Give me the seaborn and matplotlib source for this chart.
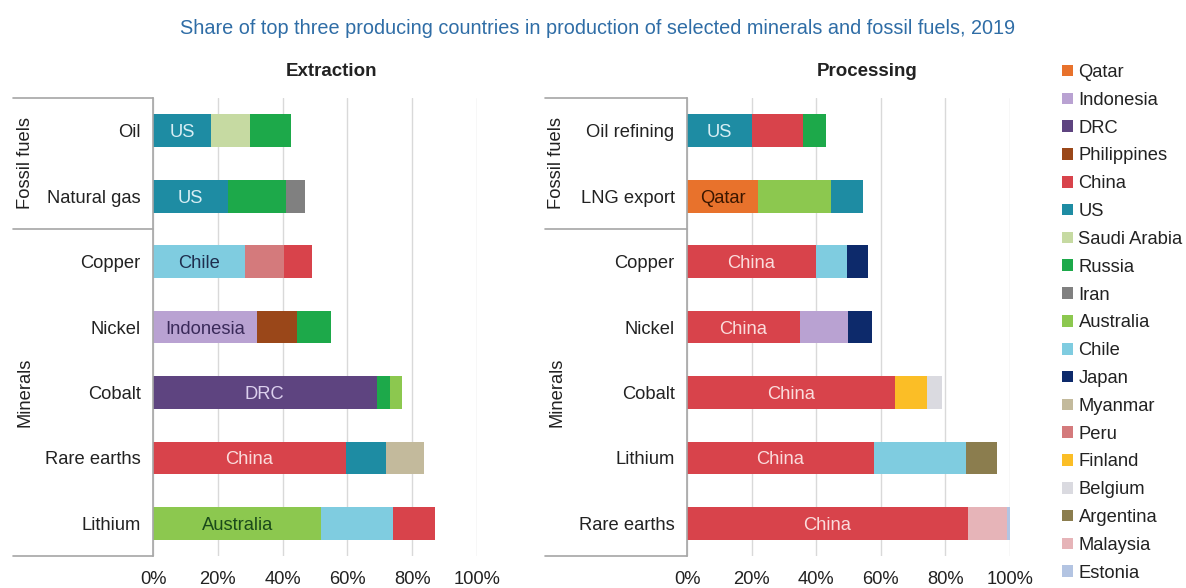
import pandas as pd
import matplotlib.pyplot as plt
import matplotlib.ticker as mtick
import matplotlib.transforms as mtransforms
from matplotlib.patches import Patch
import seaborn as sns

TITLE = "Share of top three producing countries in production of selected minerals and fossil fuels, 2019"

# Extraction panel (shares in %)
ext_items = ["Oil", "Natural gas", "Copper", "Nickel", "Cobalt", "Rare earths", "Lithium"]
ext_first = ["US", "US", "Chile", "Indonesia", "DRC", "China", "Australia"]
ext_second = ["Saudi Arabia", "Russia", "Peru", "Philippines", "Russia", "US", "Chile"]
ext_third = ["Russia", "Iran", "China", "Russia", "Australia", "Myanmar", "China"]
ext_share1 = [18, 23, 28.5, 32, 69, 59.5, 52]
ext_share2 = [12, 18, 12, 12.5, 4, 12.5, 22]
ext_share3 = [12.5, 6, 8.5, 10.5, 4, 11.5, 13]

# Processing panel (shares in %)
proc_items = ["Oil refining", "LNG export", "Copper", "Nickel", "Cobalt", "Lithium", "Rare earths"]
proc_first = ["US", "Qatar", "China", "China", "China", "China", "China"]
proc_second = ["China", "Australia", "Chile", "Indonesia", "Finland", "Chile", "Malaysia"]
proc_third = ["Russia", "US", "Japan", "Japan", "Belgium", "Argentina", "Estonia"]
proc_share1 = [20, 22, 40, 35, 64.5, 58, 87]
proc_share2 = [16, 22.5, 9.5, 15, 10, 28.5, 12.2]
proc_share3 = [7, 10, 6.5, 7.5, 4.5, 9.5, 0.8]

legend_countries = ["Qatar", "Indonesia", "DRC", "Philippines", "China", "US",
                    "Saudi Arabia", "Russia", "Iran", "Australia", "Chile", "Japan",
                    "Myanmar", "Peru", "Finland", "Belgium", "Argentina", "Malaysia", "Estonia"]
country_colors = {
    "Qatar": "#E8722C", "Indonesia": "#B9A2D2", "DRC": "#5E4480", "Philippines": "#9A4719",
    "China": "#D8434B", "US": "#1E8CA3", "Saudi Arabia": "#C6DAA2", "Russia": "#1DA94A",
    "Iran": "#808080", "Australia": "#8CC84F", "Chile": "#7FCCE0", "Japan": "#0D2A6B",
    "Myanmar": "#C3BA9C", "Peru": "#D47A7C", "Finland": "#FBBE26", "Belgium": "#DADAE0",
    "Argentina": "#8B7D4E", "Malaysia": "#E6B4B8", "Estonia": "#B3C4E2",
}
label_colors = {"US": "#D8EEF4", "Chile": "#1F2E4E", "Indonesia": "#3A2A5A", "DRC": "#DCD0EE",
                "China": "#FADCDC", "Australia": "#1A4A1A", "Qatar": "#3A1600"}

GRID = "#D9D9D9"
LINE = "#A6A6A6"
TEXT = "#222222"
FS = 13.2


def long_frame(items, firsts, seconds, thirds, s1, s2, s3):
    rows = []
    for i, item in enumerate(items):
        parts = [(firsts[i], s1[i]), (seconds[i], s2[i]), (thirds[i], s3[i])]
        for rank, (country, share) in enumerate(parts, 1):
            rows.append({"item": item, "pos": i, "rank": rank, "country": country, "share": share})
    df = pd.DataFrame(rows)
    df["end"] = df.groupby("item")["share"].cumsum()
    return df


def draw_panel(ax, df, items, title_x, title, box_x, label_x):
    # stacked bars: draw cumulative totals from the outermost segment inwards
    for rank in [3, 2, 1]:
        sub = df[df["rank"] == rank]
        sns.barplot(data=sub, x="end", y="item", hue="country", order=items,
                    palette=country_colors, dodge=False, width=0.5, saturation=1,
                    linewidth=0, errorbar=None, legend=False, ax=ax)
    for _, row in df[df["rank"] == 1].iterrows():
        ax.text(row["share"] / 2, row["pos"], row["country"], ha="center", va="center_baseline",
                fontsize=FS, color=label_colors.get(row["country"], "white"))

    ax.set_xlim(0, 100)
    ax.set_ylim(6.5, -0.5)
    ax.set_xticks([0, 20, 40, 60, 80, 100])
    ax.xaxis.set_major_formatter(mtick.PercentFormatter(decimals=0))
    ax.set_xlabel("")
    ax.set_ylabel("")
    ax.xaxis.grid(True, color=GRID, lw=1)
    ax.yaxis.grid(False)
    ax.set_axisbelow(True)
    ax.tick_params(axis="x", length=0, pad=11, labelsize=FS, labelcolor=TEXT)
    ax.tick_params(axis="y", length=0, pad=9, labelsize=FS, labelcolor=TEXT)
    for side in ["top", "right", "bottom"]:
        ax.spines[side].set_visible(False)
    ax.spines["left"].set_color(LINE)
    ax.spines["left"].set_linewidth(1.2)

    # two-level category box
    trans = mtransforms.blended_transform_factory(ax.transAxes, ax.transData)
    for yy in [-0.5, 1.5, 6.5]:
        ax.plot([box_x, 0], [yy, yy], transform=trans, clip_on=False, color=LINE, lw=1.2)
    ax.text(label_x, 0.5, "Fossil fuels", rotation=90, transform=trans,
            ha="center", va="center", fontsize=FS, color=TEXT)
    ax.text(label_x, 4, "Minerals", rotation=90, transform=trans,
            ha="center", va="center", fontsize=FS, color=TEXT)
    ax.figure.text(title_x, 1 - 72 / 588, title, ha="center", va="center",
                   fontsize=13.5, fontweight="bold", color=TEXT)


sns.set_theme(style="white")
plt.rcParams["font.family"] = ["Liberation Sans", "DejaVu Sans"]

fig = plt.figure(figsize=(11.86, 5.88), dpi=100)
ax1 = fig.add_axes([153 / 1186, 32 / 588, 324 / 1186, 458 / 588])
ax2 = fig.add_axes([687 / 1186, 32 / 588, 322.6 / 1186, 458 / 588])

ext = long_frame(ext_items, ext_first, ext_second, ext_third, ext_share1, ext_share2, ext_share3)
proc = long_frame(proc_items, proc_first, proc_second, proc_third, proc_share1, proc_share2, proc_share3)

draw_panel(ax1, ext, ext_items, 332 / 1186, "Extraction", -0.432, -0.395)
draw_panel(ax2, proc, proc_items, 867 / 1186, "Processing", -0.44, -0.403)

fig.text(598 / 1186, 1 - 28 / 588, TITLE, ha="center", va="center", fontsize=14.3, color="#2F6DA6")

handles = [Patch(facecolor=country_colors[c], edgecolor="none") for c in legend_countries]
fig.legend(handles, legend_countries, loc="upper left", bbox_to_anchor=(1062 / 1186, 1 - 64 / 588),
           frameon=False, fontsize=FS, handlelength=0.6, handleheight=0.6,
           handletextpad=0.3, labelspacing=0.59, borderpad=0, borderaxespad=0,
           labelcolor=TEXT)

fig.savefig("out.png", dpi=100)
